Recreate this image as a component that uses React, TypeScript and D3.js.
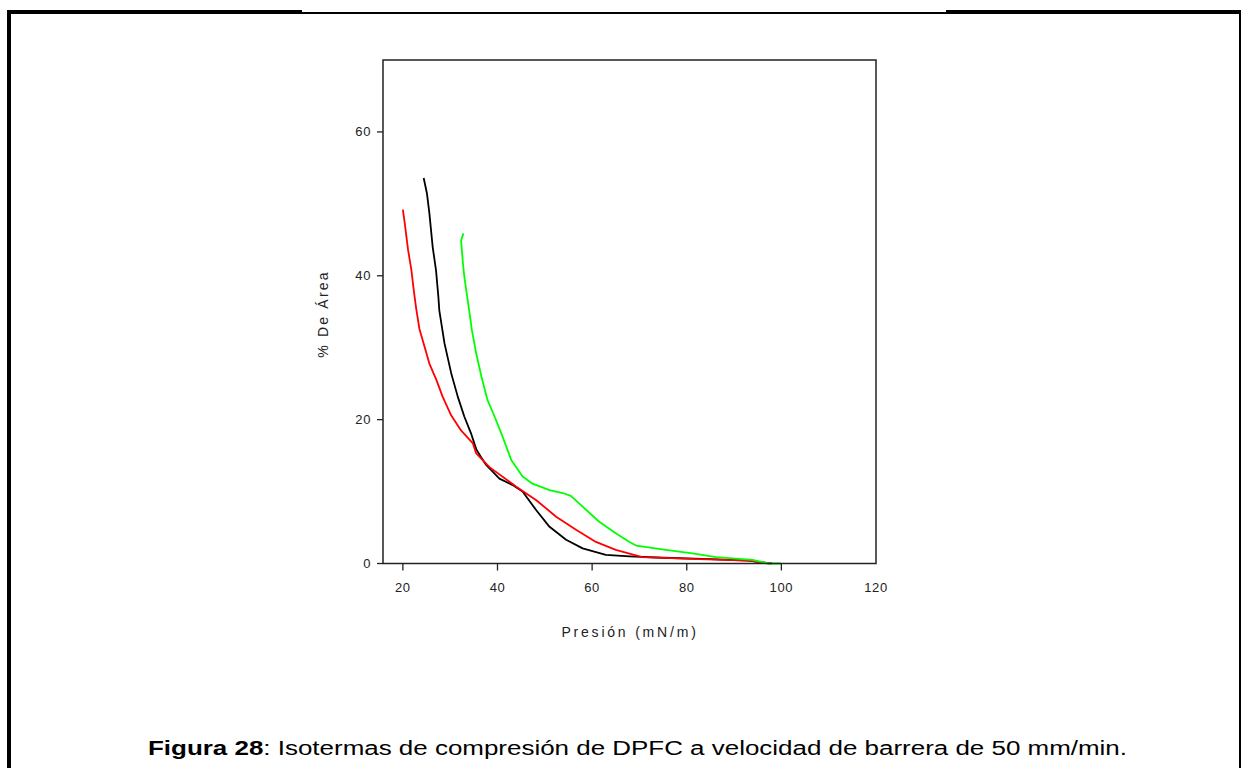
import React from "react";
import * as d3 from "d3";

// ---- Data (Presión, % De Área) ----
const blackX = [24.4, 25.1, 25.6, 26.3, 27.0, 27.5, 27.7, 28.8, 30.2, 31.6, 33.0, 34.4, 35.5, 36.5, 37.6, 40.4, 43.2, 45.3, 48.2, 51.0, 54.5, 58.0, 62.9, 67.9, 75.0, 85.0, 93.0, 98.0];
const blackY = [53.6, 51.4, 48.7, 44.0, 40.8, 37.1, 35.2, 30.6, 26.5, 23.2, 20.4, 18.1, 15.9, 14.8, 13.7, 11.8, 10.9, 10.0, 7.4, 5.1, 3.3, 2.1, 1.2, 1.0, 0.8, 0.6, 0.4, 0.0];

const redX = [20.0, 20.4, 21.1, 21.8, 22.3, 22.8, 23.5, 24.6, 25.6, 27.1, 28.4, 30.2, 32.3, 34.8, 35.5, 38.3, 43.9, 48.2, 52.4, 56.6, 60.8, 65.0, 70.6, 82.6, 93.2, 97.4];
const redY = [49.2, 47.3, 43.6, 40.8, 38.0, 35.5, 32.6, 30.1, 27.8, 25.5, 23.2, 20.6, 18.5, 16.7, 15.3, 13.4, 10.7, 8.8, 6.5, 4.7, 3.0, 1.9, 0.9, 0.6, 0.4, 0.0];

const greenX = [32.8, 32.3, 32.7, 33.0, 33.6, 34.6, 35.5, 36.6, 37.9, 39.4, 40.8, 42.9, 45.3, 47.4, 51.0, 53.8, 55.5, 58.0, 61.5, 65.0, 67.9, 69.3, 75.6, 81.2, 86.2, 93.9, 97.4, 99.9];
const greenY = [45.9, 44.9, 41.7, 39.8, 37.1, 32.4, 29.2, 26.0, 22.7, 20.4, 18.1, 14.4, 12.1, 11.1, 10.2, 9.8, 9.4, 7.9, 5.8, 4.2, 3.0, 2.5, 1.9, 1.4, 0.9, 0.5, 0.0, 0.0];

const xTicks = [20, 40, 60, 80, 100, 120];
const yTicks = [0, 20, 40, 60];

const series = [
  { name: "black", color: "#000000", xs: blackX, ys: blackY },
  { name: "red", color: "#ff0000", xs: redX, ys: redY },
  { name: "green", color: "#00ff00", xs: greenX, ys: greenY },
];

const X0 = 383, X1 = 876, Y0 = 60, Y1 = 563.5;

export default function App() {
  const x = d3.scaleLinear().domain([15.8, 120]).range([X0, X1]);
  const y = d3.scaleLinear().domain([0, 70]).range([Y1, Y0]);
  const line = d3.line<[number, number]>().x((d) => x(d[0])).y((d) => y(d[1]));
  const font = "'Liberation Sans', Arial, sans-serif";

  return (
    <svg width={1241} height={768} style={{ position: "absolute", left: 0, top: 0, background: "#fff" }}>
      {/* page frame */}
      <rect x={7} y={10} width={295} height={4} fill="#000" />
      <rect x={302} y={12} width={644} height={2} fill="#000" />
      <rect x={946} y={10} width={295} height={4} fill="#000" />
      <rect x={7} y={10} width={4} height={758} fill="#000" />
      <rect x={1239} y={12} width={2} height={756} fill="#000" />

      {/* series */}
      {series.map((s) => (
        <path
          key={s.name}
          d={line(s.xs.map((v, i) => [v, s.ys[i]] as [number, number])) || ""}
          fill="none"
          stroke={s.color}
          strokeWidth={1.8}
          strokeLinejoin="round"
        />
      ))}

      {/* plot box */}
      <rect x={X0} y={Y0} width={X1 - X0} height={Y1 - Y0} fill="none" stroke="#222" strokeWidth={1.5} />

      {/* x ticks */}
      {xTicks.map((t) => (
        <g key={"x" + t}>
          {t < 120 && <line x1={x(t)} x2={x(t)} y1={Y1} y2={Y1 + 7} stroke="#222" strokeWidth={1.3} />}
          <text x={x(t)} y={592} textAnchor="middle" fontFamily={font} fontSize={13} letterSpacing={0.6} fill="#222">{t}</text>
        </g>
      ))}

      {/* y ticks */}
      {yTicks.map((t) => (
        <g key={"y" + t}>
          <line x1={X0 - 6} x2={X0} y1={y(t)} y2={y(t)} stroke="#222" strokeWidth={1.3} />
          <text x={371} y={y(t) + 4.5} textAnchor="end" fontFamily={font} fontSize={13} letterSpacing={0.6} fill="#222">{t}</text>
        </g>
      ))}

      {/* axis titles */}
      <text x={630} y={637} textAnchor="middle" fontFamily={font} fontSize={14} letterSpacing={2.8} fill="#222">Presión (mN/m)</text>
      <text transform="translate(328,314) rotate(-90)" textAnchor="middle" fontFamily={font} fontSize={14} letterSpacing={2.2} fill="#222">% De Área</text>

      {/* caption */}
      <g transform="translate(148,755) scale(1.298,1)">
        <text x={0} y={0} fontFamily={font} fontSize={20} fill="#000">
          <tspan fontWeight="bold">Figura 28</tspan>
          <tspan>: Isotermas de compresión de DPFC a velocidad de barrera de 50 mm/min.</tspan>
        </text>
      </g>
    </svg>
  );
}
